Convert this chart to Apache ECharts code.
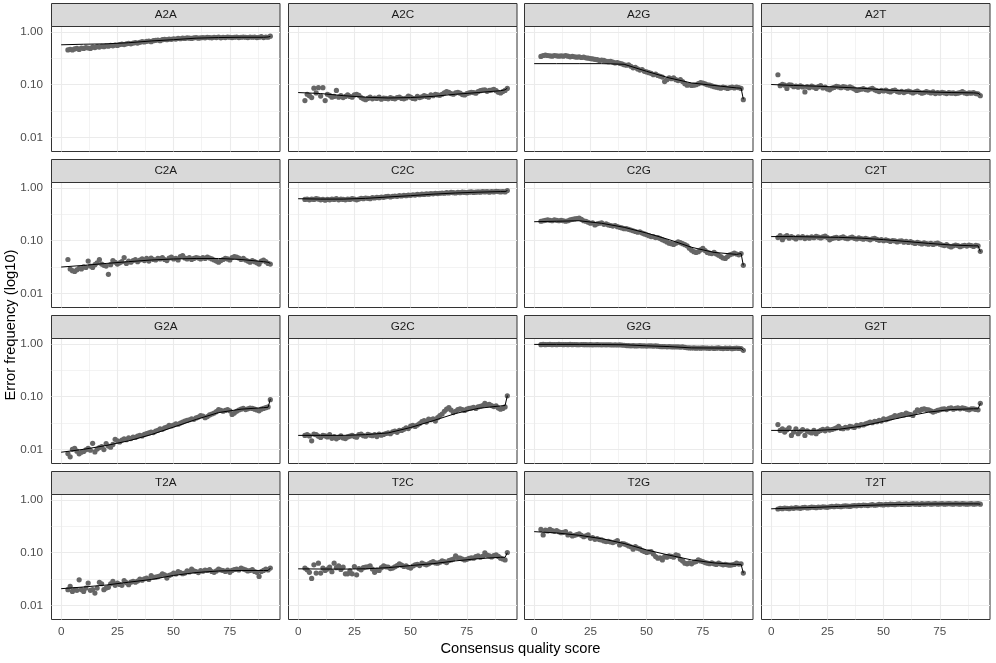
<!DOCTYPE html>
<html>
<head>
<meta charset="utf-8">
<script src="https://cdn.jsdelivr.net/npm/echarts@6/dist/echarts.min.js"></script>
<style>
html,body{margin:0;padding:0;background:#fff;}
#chart{width:996px;height:663px;}
</style>
</head>
<body>
<div id="chart"></div>
<script>
// ---- data ----
const panels = ['A2A','A2C','A2G','A2T','C2A','C2C','C2G','C2T','G2A','G2C','G2G','G2T','T2A','T2C','T2G','T2T'];
const xs = [3,4,5,6,7,8,9,10,11,12,
13,14,15,16,17,18,19,20,21,22,
23,24,25,26,27,28,29,30,31,32,
33,34,35,36,37,38,39,40,41,42,
43,44,45,46,47,48,49,50,51,52,
53,54,55,56,57,58,59,60,61,62,
63,64,65,66,67,68,69,70,71,72,
73,74,75,76,77,78,79,80,81,82,
83,84,85,86,87,88,89,90,91,92,
93];
const lineX = [0,10,20,30,40,50,60,70,80,90,92,93];
const xBreaks = [0,25,50,75];
const xMinor = [12.5,37.5,62.5,87.5];
const yBreaks = [0.01,0.1,1];
const yMinor = [0.0316,0.316];

const A2A = [0.46,0.47,0.46,0.48,0.49,0.47,0.50,0.49,0.51,0.50,
0.49,0.52,0.51,0.53,0.52,0.54,0.53,0.55,0.54,0.56,
0.55,0.57,0.56,0.58,0.59,0.58,0.60,0.61,0.60,0.62,
0.63,0.62,0.64,0.66,0.65,0.67,0.68,0.66,0.69,0.70,
0.71,0.69,0.72,0.73,0.72,0.74,0.73,0.75,0.74,0.76,
0.75,0.77,0.76,0.78,0.77,0.76,0.78,0.79,0.77,0.78,
0.79,0.78,0.80,0.79,0.78,0.80,0.79,0.81,0.78,0.80,
0.79,0.81,0.80,0.79,0.80,0.81,0.79,0.80,0.81,0.80,
0.79,0.81,0.80,0.81,0.79,0.80,0.82,0.79,0.81,0.80,
0.84];
const A2A_fit = [0.575,0.59,0.60,0.63,0.68,0.72,0.77,0.79,0.80,0.80,0.81,0.83];

const A2C = [0.050,0.066,0.062,0.057,0.086,0.070,0.088,0.061,0.088,0.050,
0.066,0.063,0.058,0.060,0.078,0.058,0.062,0.057,0.060,0.064,
0.060,0.058,0.064,0.066,0.063,0.057,0.054,0.052,0.055,0.058,
0.054,0.056,0.055,0.058,0.053,0.056,0.055,0.054,0.057,0.055,
0.054,0.057,0.058,0.055,0.054,0.056,0.061,0.058,0.055,0.054,
0.060,0.057,0.059,0.062,0.060,0.058,0.064,0.062,0.066,0.064,
0.063,0.066,0.070,0.074,0.072,0.068,0.066,0.070,0.072,0.069,
0.065,0.064,0.068,0.070,0.072,0.071,0.069,0.074,0.077,0.079,
0.080,0.075,0.078,0.079,0.082,0.077,0.072,0.070,0.074,0.078,
0.085];
const A2C_fit = [0.071,0.068,0.062,0.058,0.056,0.057,0.060,0.066,0.071,0.077,0.080,0.086];

const A2G = [0.346,0.36,0.365,0.36,0.355,0.35,0.36,0.355,0.35,0.355,
0.35,0.36,0.35,0.34,0.345,0.34,0.335,0.34,0.33,0.335,
0.325,0.32,0.315,0.31,0.305,0.30,0.29,0.295,0.29,0.28,
0.275,0.28,0.27,0.26,0.265,0.255,0.25,0.24,0.235,0.24,
0.225,0.21,0.215,0.20,0.19,0.195,0.18,0.175,0.17,0.165,
0.155,0.16,0.15,0.145,0.14,0.115,0.125,0.135,0.13,0.135,
0.125,0.12,0.125,0.115,0.105,0.098,0.10,0.097,0.098,0.10,
0.105,0.11,0.108,0.104,0.10,0.098,0.095,0.092,0.090,0.088,
0.086,0.090,0.088,0.085,0.088,0.090,0.087,0.090,0.088,0.085,
0.052];
const A2G_fit = [0.252,0.252,0.252,0.252,0.245,0.18,0.135,0.108,0.097,0.087,0.086,0.053];

const A2T = [0.155,0.096,0.102,0.098,0.085,0.100,0.098,0.092,0.094,0.090,
0.095,0.091,0.073,0.092,0.088,0.094,0.090,0.085,0.092,0.096,
0.087,0.090,0.083,0.080,0.086,0.089,0.093,0.091,0.088,0.092,
0.090,0.086,0.091,0.087,0.083,0.078,0.080,0.082,0.084,0.081,
0.079,0.083,0.085,0.080,0.077,0.074,0.078,0.076,0.079,0.075,
0.073,0.077,0.079,0.074,0.072,0.075,0.071,0.074,0.076,0.073,
0.070,0.073,0.076,0.072,0.069,0.071,0.074,0.072,0.070,0.073,
0.068,0.071,0.069,0.072,0.070,0.068,0.071,0.069,0.070,0.068,
0.069,0.071,0.074,0.070,0.068,0.070,0.069,0.071,0.068,0.067,
0.062];
const A2T_fit = [0.101,0.097,0.094,0.090,0.086,0.080,0.076,0.073,0.071,0.070,0.069,0.064];

const C2A = [0.044,0.029,0.027,0.026,0.028,0.030,0.029,0.032,0.031,0.041,
0.033,0.031,0.035,0.038,0.044,0.036,0.034,0.033,0.023,0.035,
0.042,0.039,0.036,0.038,0.040,0.048,0.037,0.041,0.039,0.042,
0.044,0.040,0.043,0.045,0.042,0.046,0.041,0.047,0.044,0.043,
0.046,0.045,0.048,0.044,0.042,0.047,0.049,0.045,0.046,0.043,
0.050,0.052,0.047,0.045,0.048,0.044,0.046,0.048,0.047,0.045,
0.048,0.046,0.049,0.047,0.045,0.043,0.041,0.039,0.042,0.044,
0.046,0.045,0.043,0.048,0.050,0.049,0.047,0.044,0.046,0.043,
0.041,0.039,0.042,0.040,0.038,0.036,0.041,0.043,0.040,0.037,
0.036];
const C2A_fit = [0.0316,0.034,0.037,0.040,0.043,0.045,0.046,0.046,0.044,0.040,0.039,0.037];

const C2C = [0.61,0.62,0.60,0.62,0.61,0.63,0.62,0.60,0.61,0.59,
0.61,0.60,0.62,0.61,0.63,0.60,0.62,0.61,0.60,0.62,
0.61,0.63,0.62,0.60,0.62,0.64,0.63,0.65,0.64,0.63,
0.66,0.65,0.67,0.66,0.68,0.67,0.69,0.70,0.68,0.70,
0.71,0.70,0.72,0.71,0.73,0.72,0.74,0.73,0.75,0.74,
0.76,0.75,0.77,0.76,0.78,0.77,0.79,0.78,0.80,0.79,
0.80,0.81,0.80,0.82,0.81,0.83,0.82,0.81,0.83,0.82,
0.84,0.83,0.82,0.84,0.85,0.83,0.84,0.85,0.84,0.86,
0.85,0.86,0.84,0.86,0.85,0.87,0.86,0.85,0.86,0.85,
0.90];
const C2C_fit = [0.63,0.62,0.62,0.64,0.68,0.72,0.77,0.81,0.84,0.86,0.86,0.90];

const C2G = [0.235,0.24,0.245,0.25,0.245,0.24,0.25,0.245,0.24,0.245,
0.24,0.235,0.24,0.25,0.255,0.26,0.265,0.27,0.255,0.24,
0.235,0.225,0.215,0.22,0.20,0.21,0.215,0.22,0.205,0.21,
0.20,0.195,0.19,0.195,0.185,0.18,0.175,0.17,0.17,0.165,
0.16,0.155,0.15,0.145,0.148,0.14,0.135,0.13,0.125,0.12,
0.12,0.115,0.115,0.11,0.105,0.10,0.095,0.09,0.088,0.085,
0.09,0.095,0.092,0.088,0.084,0.08,0.072,0.066,0.062,0.06,
0.062,0.067,0.072,0.065,0.060,0.058,0.057,0.060,0.056,0.053,
0.050,0.047,0.046,0.050,0.054,0.056,0.058,0.056,0.054,0.057,
0.034];
const C2G_fit = [0.23,0.235,0.24,0.215,0.18,0.14,0.105,0.075,0.060,0.055,0.057,0.034];

const C2T = [0.115,0.125,0.105,0.118,0.125,0.112,0.120,0.115,0.108,0.118,
0.114,0.120,0.110,0.116,0.112,0.119,0.114,0.121,0.117,0.113,
0.118,0.122,0.115,0.104,0.110,0.113,0.116,0.111,0.115,0.118,
0.112,0.109,0.114,0.117,0.111,0.108,0.113,0.110,0.107,0.111,
0.108,0.104,0.109,0.111,0.106,0.102,0.105,0.100,0.104,0.101,
0.097,0.101,0.099,0.095,0.098,0.100,0.094,0.097,0.093,0.096,
0.092,0.089,0.093,0.090,0.087,0.091,0.088,0.086,0.089,0.085,
0.088,0.090,0.086,0.083,0.081,0.084,0.079,0.076,0.080,0.083,
0.081,0.077,0.080,0.082,0.079,0.083,0.081,0.078,0.082,0.080,
0.063];
const C2T_fit = [0.12,0.12,0.118,0.116,0.112,0.105,0.097,0.089,0.083,0.080,0.080,0.062];

const G2A = [0.0083,0.0072,0.0100,0.0104,0.0092,0.0082,0.0088,0.0091,0.0098,0.0104,
0.0096,0.0130,0.0089,0.0101,0.0108,0.0112,0.0099,0.0128,0.0115,0.0110,
0.0124,0.0155,0.0145,0.0138,0.0150,0.0158,0.0152,0.0165,0.0160,0.0170,
0.0168,0.0178,0.0184,0.0180,0.0192,0.0198,0.0205,0.0213,0.0208,0.0222,
0.0230,0.0246,0.0240,0.0255,0.0265,0.0285,0.0278,0.0290,0.0305,0.0300,
0.0315,0.0330,0.0345,0.0354,0.0365,0.0380,0.0372,0.0395,0.0410,0.0440,
0.043,0.040,0.042,0.045,0.047,0.049,0.052,0.057,0.055,0.053,
0.055,0.057,0.054,0.046,0.049,0.053,0.056,0.058,0.060,0.057,
0.059,0.061,0.060,0.058,0.056,0.054,0.058,0.060,0.062,0.064,
0.088];
const G2A_fit = [0.0088,0.0100,0.0118,0.0145,0.019,0.0265,0.037,0.050,0.058,0.062,0.063,0.090];

const G2C = [0.0184,0.0190,0.0180,0.0145,0.0195,0.0190,0.0178,0.0168,0.0185,0.0180,
0.0172,0.0190,0.0162,0.0175,0.0158,0.0168,0.0180,0.0165,0.0160,0.0172,
0.0178,0.0185,0.0175,0.0170,0.0190,0.0195,0.0182,0.0178,0.0192,0.0186,
0.0182,0.0190,0.0175,0.0195,0.0185,0.0192,0.0200,0.0205,0.0198,0.0215,
0.0222,0.0210,0.0230,0.0228,0.0240,0.0255,0.0248,0.0275,0.0285,0.0272,
0.0290,0.0310,0.0335,0.0350,0.0330,0.0375,0.0365,0.0380,0.0345,0.0400,
0.044,0.047,0.053,0.058,0.062,0.056,0.050,0.053,0.057,0.059,
0.057,0.055,0.058,0.060,0.061,0.063,0.060,0.064,0.066,0.068,
0.075,0.070,0.072,0.068,0.065,0.067,0.061,0.058,0.060,0.064,
0.104];
const G2C_fit = [0.0184,0.0184,0.0184,0.019,0.0205,0.026,0.035,0.048,0.060,0.067,0.068,0.105];

const G2G = [0.98,0.99,0.98,0.985,0.99,0.98,0.985,0.98,0.99,0.985,
0.98,0.985,0.98,0.99,0.98,0.985,0.98,0.975,0.985,0.98,
0.98,0.975,0.98,0.97,0.975,0.98,0.975,0.97,0.975,0.97,
0.975,0.97,0.965,0.97,0.965,0.97,0.96,0.955,0.94,0.935,
0.93,0.935,0.925,0.93,0.935,0.925,0.93,0.92,0.93,0.925,
0.92,0.925,0.915,0.90,0.895,0.90,0.89,0.895,0.89,0.885,
0.89,0.885,0.88,0.885,0.87,0.855,0.85,0.845,0.85,0.84,
0.845,0.84,0.85,0.845,0.84,0.835,0.845,0.83,0.84,0.85,
0.835,0.825,0.84,0.83,0.845,0.82,0.835,0.84,0.83,0.825,
0.765];
const G2G_fit = [0.99,0.99,0.99,0.985,0.975,0.93,0.90,0.85,0.845,0.84,0.84,0.76];

const G2T = [0.0296,0.0229,0.0246,0.0213,0.0235,0.0257,0.0184,0.0213,0.0246,0.0198,
0.0220,0.0236,0.0184,0.0225,0.0213,0.0205,0.0230,0.0198,0.0218,0.0229,
0.0240,0.0225,0.0246,0.0232,0.0238,0.0246,0.0255,0.0274,0.0250,0.0246,
0.0262,0.0255,0.0274,0.0268,0.0260,0.0285,0.0278,0.0296,0.0290,0.0305,
0.0315,0.0330,0.0320,0.0340,0.0335,0.0354,0.0345,0.0380,0.0365,0.0380,
0.0395,0.0410,0.0440,0.0425,0.0445,0.0459,0.0450,0.0487,0.0470,0.0459,
0.044,0.050,0.0563,0.054,0.0575,0.0588,0.057,0.0563,0.054,0.051,
0.053,0.055,0.0563,0.058,0.0588,0.057,0.060,0.0616,0.058,0.060,
0.0616,0.059,0.0616,0.060,0.058,0.0563,0.059,0.0588,0.0575,0.0563,
0.075];
const G2T_fit = [0.0229,0.0229,0.0229,0.024,0.0275,0.034,0.042,0.051,0.057,0.059,0.059,0.075];

const T2A = [0.0198,0.0229,0.0184,0.0198,0.0193,0.0306,0.0198,0.0184,0.0213,0.0265,
0.0193,0.0198,0.0171,0.0213,0.0274,0.0257,0.0198,0.0213,0.0220,0.0257,
0.0285,0.0240,0.0265,0.0250,0.0240,0.0296,0.0270,0.0246,0.0275,0.0285,
0.0275,0.0290,0.0316,0.0300,0.0320,0.0330,0.0310,0.0366,0.0340,0.0343,
0.0350,0.0365,0.0397,0.0380,0.0330,0.0370,0.0385,0.0410,0.0395,0.0440,
0.0420,0.0400,0.0410,0.0450,0.0430,0.0487,0.0450,0.0440,0.0420,0.0459,
0.0445,0.0470,0.0459,0.0480,0.0440,0.0424,0.0450,0.0487,0.0470,0.0459,
0.0440,0.0470,0.0424,0.0460,0.0480,0.0487,0.0470,0.0510,0.0490,0.0473,
0.0450,0.0459,0.0480,0.0440,0.0424,0.0354,0.0440,0.0460,0.0487,0.0470,
0.051];
const T2A_fit = [0.0207,0.0223,0.0243,0.0275,0.031,0.037,0.042,0.045,0.046,0.046,0.046,0.051];

const T2C = [0.0510,0.0473,0.0424,0.0325,0.0588,0.0410,0.0633,0.0410,0.0510,0.0459,
0.0490,0.0533,0.0436,0.0633,0.0520,0.0563,0.0480,0.0533,0.0397,0.0397,
0.0450,0.0397,0.0547,0.0380,0.0500,0.0473,0.0520,0.0533,0.0540,0.0563,
0.0490,0.0424,0.0470,0.0459,0.0520,0.0563,0.0540,0.0533,0.0500,0.0510,
0.0540,0.0570,0.0616,0.0580,0.0550,0.0563,0.0530,0.0510,0.0560,0.0588,
0.0600,0.0570,0.0633,0.0610,0.0590,0.0616,0.0650,0.0680,0.0640,0.0633,
0.0660,0.0700,0.0680,0.0650,0.0710,0.0731,0.0760,0.0870,0.0800,0.0787,
0.0760,0.0730,0.0750,0.0780,0.0800,0.0787,0.0840,0.0870,0.0820,0.0850,
0.1000,0.0900,0.0870,0.0830,0.0880,0.0910,0.0850,0.0787,0.0760,0.0731,
0.101];
const T2C_fit = [0.0494,0.0490,0.0488,0.0495,0.052,0.057,0.062,0.070,0.077,0.082,0.082,0.100];

const T2G = [0.278,0.218,0.270,0.260,0.278,0.263,0.255,0.263,0.250,0.241,
0.245,0.252,0.218,0.228,0.208,0.215,0.222,0.228,0.215,0.202,
0.210,0.218,0.188,0.195,0.180,0.185,0.178,0.175,0.168,0.163,
0.165,0.160,0.156,0.162,0.170,0.141,0.150,0.147,0.142,0.135,
0.130,0.117,0.131,0.122,0.118,0.110,0.106,0.101,0.104,0.105,
0.095,0.0846,0.0787,0.080,0.0731,0.0846,0.082,0.087,0.085,0.082,
0.091,0.088,0.075,0.070,0.0633,0.0616,0.064,0.0616,0.066,0.068,
0.0731,0.070,0.068,0.065,0.0633,0.062,0.064,0.0616,0.060,0.0633,
0.061,0.059,0.060,0.0588,0.058,0.0588,0.060,0.0633,0.061,0.0616,
0.041];
const T2G_fit = [0.252,0.238,0.215,0.185,0.150,0.113,0.090,0.073,0.064,0.060,0.060,0.041];

const T2T = [0.68,0.70,0.69,0.71,0.70,0.69,0.71,0.70,0.72,0.71,
0.70,0.72,0.73,0.71,0.72,0.74,0.73,0.72,0.74,0.73,
0.75,0.74,0.73,0.75,0.76,0.75,0.77,0.76,0.75,0.77,
0.78,0.77,0.76,0.78,0.79,0.78,0.80,0.79,0.81,0.80,
0.79,0.81,0.82,0.80,0.81,0.83,0.82,0.81,0.83,0.82,
0.84,0.83,0.82,0.84,0.85,0.83,0.84,0.85,0.83,0.84,
0.86,0.84,0.85,0.83,0.86,0.84,0.85,0.86,0.84,0.85,
0.86,0.84,0.85,0.86,0.84,0.85,0.86,0.85,0.84,0.86,
0.85,0.84,0.86,0.85,0.84,0.85,0.86,0.84,0.85,0.86,
0.84];
const T2T_fit = [0.685,0.71,0.73,0.76,0.79,0.815,0.83,0.845,0.85,0.85,0.85,0.84];

const pointsBy = {A2A,A2C,A2G,A2T,C2A,C2C,C2G,C2T,G2A,G2C,G2G,G2T,T2A,T2C,T2G,T2T};
const fitBy = {A2A:A2A_fit,A2C:A2C_fit,A2G:A2G_fit,A2T:A2T_fit,C2A:C2A_fit,C2C:C2C_fit,C2G:C2G_fit,C2T:C2T_fit,
  G2A:G2A_fit,G2C:G2C_fit,G2G:G2G_fit,G2T:G2T_fit,T2A:T2A_fit,T2C:T2C_fit,T2G:T2G_fit,T2T:T2T_fit};

// ---- layout ----
const FONT = '"Liberation Sans", Arial, Helvetica, sans-serif';
const colLeft = [51.5, 288.5, 524.5, 761.5];
const panelW = 228.5;
const rowStep = 156;
const stripTop0 = 3.5, stripH = 23, gridTop0 = 26.5, gridH = 125;
const lg = v => Math.log10(v);

const grids = [], xAxes = [], yAxes = [], series = [], graphics = [];
const majorStyle = {color:'#EBEBEB', width:1.1, type:'solid'};
const minorStyle = {color:'#EBEBEB', width:0.6, type:'solid'};

panels.forEach((name, i) => {
  const r = Math.floor(i / 4), c = i % 4;
  const left = colLeft[c], top = gridTop0 + rowStep * r;
  grids.push({left: left, top: top, width: panelW, height: gridH, show: true,
    borderColor: '#333333', borderWidth: 1, backgroundColor: 'transparent', containLabel: false});
  const bottomRow = r === 3, leftCol = c === 0;
  xAxes.push({type: 'value', gridIndex: i, min: -4.3, max: 97.3,
    axisLine: {show: false}, splitLine: {show: false},
    axisTick: {show: bottomRow, customValues: xBreaks, length: 3.7, lineStyle: {color: '#333333', width: 1}},
    axisLabel: {show: bottomRow, customValues: xBreaks, margin: 6, fontSize: 11.7, color: '#4D4D4D', fontFamily: FONT}
  });
  yAxes.push({type: 'value', gridIndex: i, min: -2.27, max: 0.108,
    axisLine: {show: false}, splitLine: {show: false},
    axisTick: {show: leftCol, customValues: yBreaks.map(lg), length: 3.7, lineStyle: {color: '#333333', width: 1}},
    axisLabel: {show: leftCol, customValues: yBreaks.map(lg), margin: 8.5, fontSize: 11.7, color: '#4D4D4D', fontFamily: FONT,
      formatter: v => Math.pow(10, v).toFixed(2)}
  });
  const ml = [];
  xMinor.forEach(v => ml.push({xAxis: v, lineStyle: minorStyle}));
  yMinor.forEach(v => ml.push({yAxis: lg(v), lineStyle: minorStyle}));
  xBreaks.forEach(v => ml.push({xAxis: v, lineStyle: majorStyle}));
  yBreaks.forEach(v => ml.push({yAxis: lg(v), lineStyle: majorStyle}));
  series.push({type: 'line', xAxisIndex: i, yAxisIndex: i, data: [], z: 1, silent: true,
    markLine: {silent: true, z: 1, symbol: ['none','none'], label: {show: false}, animation: false,
      emphasis: {disabled: true}, data: ml}});
  const pts = pointsBy[name];
  series.push({type: 'scatter', xAxisIndex: i, yAxisIndex: i, z: 3, silent: true,
    symbol: 'circle', symbolSize: 5.2, itemStyle: {color: '#666666', opacity: 1},
    data: xs.map((x, k) => [x, lg(pts[k])])});
  const fit = fitBy[name];
  series.push({type: 'line', xAxisIndex: i, yAxisIndex: i, z: 4, silent: true,
    showSymbol: false, symbol: 'none', lineStyle: {color: '#000000', width: 1},
    data: lineX.map((x, k) => [x, lg(fit[k])])});
  // strip
  const sTop = stripTop0 + rowStep * r;
  graphics.push({type: 'rect', shape: {x: left, y: sTop, width: panelW, height: stripH},
    style: {fill: '#D9D9D9', stroke: '#333333', lineWidth: 1}, z: 10, silent: true});
  graphics.push({type: 'text', x: left + panelW / 2, y: sTop + stripH / 2, z: 11, silent: true,
    style: {text: name, fontSize: 11.7, fontFamily: FONT, fill: '#1A1A1A', textAlign: 'center', textVerticalAlign: 'middle'}});
});

graphics.push({type: 'text', x: 520.5, y: 649, silent: true,
  style: {text: 'Consensus quality score', fontSize: 14.7, fontFamily: FONT, fill: '#000000', textAlign: 'center', textVerticalAlign: 'middle'}});
graphics.push({type: 'text', x: 10.5, y: 325, rotation: Math.PI / 2, silent: true,
  style: {text: 'Error frequency (log10)', fontSize: 14.7, fontFamily: FONT, fill: '#000000', textAlign: 'center', textVerticalAlign: 'middle'}});

const chart = echarts.init(document.getElementById('chart'), null, {renderer: 'canvas'});
chart.setOption({
  animation: false,
  backgroundColor: '#ffffff',
  grid: grids,
  xAxis: xAxes,
  yAxis: yAxes,
  series: series,
  graphic: graphics
});
</script>
</body>
</html>
